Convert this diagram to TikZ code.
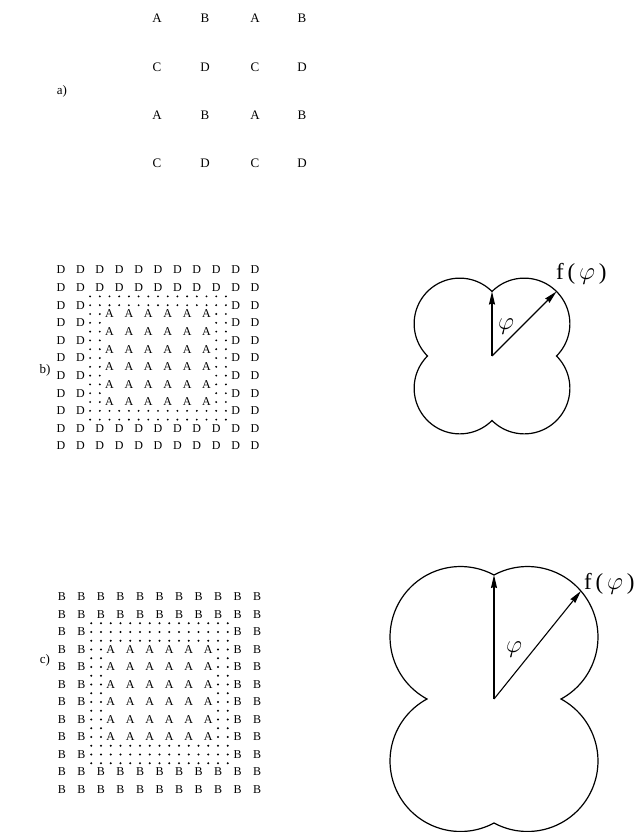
\documentclass[tikz,border=0pt]{standalone}
\usepackage{fontspec}
\setmainfont{Liberation Serif}
\usetikzlibrary{arrows.meta}
\begin{document}
\begin{tikzpicture}[x=1pt,y=-1pt,
  biglat/.style={inner sep=0pt, font=\fontsize{13}{15}\selectfont},
  lat/.style={inner sep=0pt, font=\fontsize{12}{14}\selectfont},
  lbl/.style={inner sep=0pt, font=\fontsize{13}{15}\selectfont},
  greek/.style={inner sep=0pt, font=\fontsize{23}{25}\selectfont},
  outline/.style={line width=1.2pt},
  vec/.style={line width=1.1pt, -{Stealth[length=13pt,width=6pt,inset=1pt]}}
]
\useasboundingbox (0,0) rectangle (638,832);

% ---------- a) ----------
\node[lbl] (la) at (62,91) {a)};
\foreach \L/\x/\y [count=\n] in {A/157/18,B/205/18,A/255/18,B/302/18,
  C/157/67,D/205/67,C/255/67,D/302/67,
  A/157/115,B/205/115,A/255/115,B/302/115,
  C/157/163,D/205/163,C/255/163,D/302/163}
  \node[biglat] (a\n) at (\x,\y) {\L};

% ---------- b) ----------
\def\bx{61}\def\by{270}\def\bdx{19.4}\def\bdy{17.6}
\node[lbl] (lb) at (45,370) {b)};
\foreach \i in {1,...,11}{\foreach \j in {1,...,11}{
  \pgfmathtruncatemacro\edge{(\i<3)||(\i>9)||(\j<3)||(\j>9)}
  \ifnum\edge=1
    \node[lat] (bD-\i-\j) at ({\bx+\bdx*(\i-1)},{\by+\bdy*(\j-1)}) {D};
  \fi}}
\foreach \i in {3,...,8}{\foreach \j in {3,...,8}{
  \node[lat] (bA-\i-\j) at ({\bx+\bdx*(\i-0.5)},{\by+\bdy*(\j-0.5)}) {A};}}
\foreach \k in {5,...,19}{\foreach \l in {5,...,19}{
  \pgfmathtruncatemacro\inside{(\k>6)&&(\k<18)&&(\l>6)&&(\l<18)}
  \ifnum\inside=0
    \fill ({\bx+\bdx*(\k/2-1)},{\by+\bdy*(\l/2-1)}) circle (1.05pt);
  \fi}}

% ---------- c) ----------
\def\cx{62}\def\cy{597}\def\cdx{19.5}\def\cdy{17.5}
\node[lbl] (lc) at (45,660) {c)};
\foreach \i in {1,...,11}{\foreach \j in {1,...,12}{
  \pgfmathtruncatemacro\edge{(\i<3)||(\i>9)||(\j<3)||(\j>10)}
  \ifnum\edge=1
    \node[lat] (cB-\i-\j) at ({\cx+\cdx*(\i-1)},{\cy+\cdy*(\j-1)}) {B};
  \fi}}
\foreach \i in {3,...,8}{\foreach \j in {4,...,9}{
  \node[lat] (cA-\i-\j) at ({\cx+\cdx*(\i-0.5)},{\cy+\cdy*(\j-1)}) {A};}}
\foreach \k in {5,...,19}{\foreach \l in {5,...,21}{
  \pgfmathtruncatemacro\inside{(\k>6)&&(\k<18)&&(\l>7)&&(\l<19)}
  \ifnum\inside=0
    \fill ({\cx+\cdx*(\k/2-1)},{\cy+\cdy*(\l/2-1)}) circle (1.05pt);
  \fi}}

% ---------- shape b ----------
\coordinate (bO) at (492,356);
\coordinate (bTop) at (492,291.5);
\coordinate (bDiag) at (556.5,291.5);
\draw[outline, shift={(492,356)}] plot[domain=0:360, samples=361]
  (\x:{64.5*(abs(cos(\x))+abs(sin(\x)))}) -- cycle;
\draw[vec] (bO) -- (bTop);
\draw[vec] (bO) -- (bDiag);
\node[greek] (bphi) at (506,327) {$\varphi$};
\node[greek, anchor=west] (bf) at (556,274) {f\,(\,$\varphi$\,)};

% ---------- shape c ----------
\coordinate (cO) at (494,699);
\coordinate (cTop) at (494,575);
\coordinate (cDiag) at (580.9,591);
\draw[outline, shift={(494,699)}] plot[domain=0:360, samples=361]
  (\x:{67*abs(cos(\x))+124*abs(sin(\x))}) -- cycle;
\draw[vec] (cO) -- (cTop);
\draw[vec] (cO) -- (cDiag);
\node[greek] (cphi) at (514,650) {$\varphi$};
\node[greek, anchor=west] (cf) at (584,584) {f\,(\,$\varphi$\,)};
\end{tikzpicture}
\end{document}
